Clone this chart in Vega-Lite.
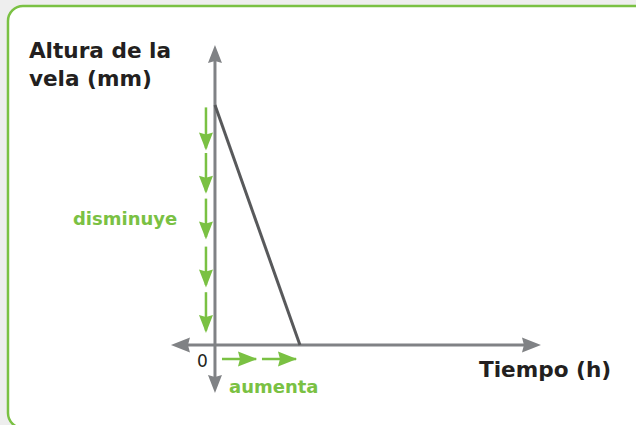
{
  "$schema": "https://vega.github.io/schema/vega-lite/v6.json",
  "width": 636,
  "height": 425,
  "autosize": {"type": "fit", "contains": "padding"},
  "padding": 0,
  "background": "#eeeeee",
  "config": {"view": {"stroke": null}},
  "encoding": {
    "x": {"field": "t", "type": "quantitative", "axis": null, "scale": {"domain": [-5.06, 9.91], "nice": false, "zero": false}},
    "y": {"field": "h", "type": "quantitative", "axis": null, "scale": {"domain": [-33.33, 143.75], "nice": false, "zero": false}}
  },
  "layer": [
    {
      "data": {"values": [{"t": -4.872, "h": 141.25, "t2": 10.6, "h2": -34.6}]},
      "mark": {"type": "rect", "fill": "#ffffff", "stroke": "#7ac143", "strokeWidth": 2.5, "cornerRadius": 15, "clip": true},
      "encoding": {"x2": {"field": "t2"}, "y2": {"field": "h2"}}
    },
    {
      "data": {"values": [
        {"t": 0, "h": -17.9, "t2": 0, "h2": 122.9},
        {"t": -0.918, "h": 0, "t2": 7.556, "h2": 0}
      ]},
      "mark": {"type": "rule", "stroke": "#808285", "strokeWidth": 3},
      "encoding": {"x2": {"field": "t2"}, "y2": {"field": "h2"}}
    },
    {
      "data": {"values": [
        {"t": 0, "h": 125, "dir": "up"},
        {"t": 0, "h": -20, "dir": "down"},
        {"t": -1.036, "h": 0, "dir": "left"},
        {"t": 7.673, "h": 0, "dir": "right"}
      ]},
      "mark": {"type": "point", "filled": true, "fill": "#808285", "size": 4, "opacity": 1},
      "encoding": {"shape": {"field": "dir", "type": "nominal", "legend": null, "scale": {
        "domain": ["up", "down", "left", "right"],
        "range": ["M0,0L7,18L0,16L-7,18Z", "M0,0L7,-18L0,-16L-7,-18Z", "M0,0L19,-7.5L17,0L19,7.5Z", "M0,0L-19,-7.5L-17,0L-19,7.5Z"]
      }}}
    },
    {
      "data": {"values": [{"t": 0, "h": 100}, {"t": 2, "h": 0}]},
      "mark": {"type": "line", "stroke": "#58595b", "strokeWidth": 3}
    },
    {
      "data": {"values": [
        {"t": -0.212, "h": 99, "t2": -0.212, "h2": 82},
        {"t": -0.212, "h": 80, "t2": -0.212, "h2": 64},
        {"t": -0.212, "h": 61, "t2": -0.212, "h2": 45},
        {"t": -0.212, "h": 41, "t2": -0.212, "h2": 25},
        {"t": -0.212, "h": 22, "t2": -0.212, "h2": 6},
        {"t": 0.165, "h": -5.83, "t2": 0.97, "h2": -5.83},
        {"t": 1.106, "h": -5.83, "t2": 1.91, "h2": -5.83}
      ]},
      "mark": {"type": "rule", "stroke": "#7ac143", "strokeWidth": 2.5},
      "encoding": {"x2": {"field": "t2"}, "y2": {"field": "h2"}}
    },
    {
      "data": {"values": [
        {"t": -0.212, "h": 81, "dir": "down"},
        {"t": -0.212, "h": 63, "dir": "down"},
        {"t": -0.212, "h": 44, "dir": "down"},
        {"t": -0.212, "h": 24, "dir": "down"},
        {"t": -0.212, "h": 5, "dir": "down"},
        {"t": 0.989, "h": -5.83, "dir": "right"},
        {"t": 1.93, "h": -5.83, "dir": "right"}
      ]},
      "mark": {"type": "point", "filled": true, "fill": "#7ac143", "size": 4, "opacity": 1},
      "encoding": {"shape": {"field": "dir", "type": "nominal", "legend": null, "scale": {
        "domain": ["down", "right"],
        "range": ["M0,1L-7,-8.3L-5.2,-9.7L0,-2L5.2,-9.7L7,-8.3Z", "M1,0L-8.3,-7L-9.7,-5.2L-2,0L-9.7,5.2L-8.3,7Z"]
      }}}
    },
    {
      "data": {"values": [
        {"t": -4.38, "h": 119.6, "label": "Altura de la"},
        {"t": -4.38, "h": 107.9, "label": "vela (mm)"},
        {"t": 6.214, "h": -13.33, "label": "Tiempo (h)"}
      ]},
      "mark": {"type": "text", "align": "left", "baseline": "alphabetic", "font": "DejaVu Sans", "fontWeight": "bold", "fontSize": 21.6, "fill": "#231f20"},
      "encoding": {"text": {"field": "label"}}
    },
    {
      "data": {"values": [{"t": -0.424, "h": -9.17, "label": "0"}]},
      "mark": {"type": "text", "align": "left", "baseline": "alphabetic", "font": "DejaVu Sans", "fontSize": 17, "fill": "#231f20"},
      "encoding": {"text": {"field": "label"}}
    },
    {
      "data": {"values": [
        {"t": -3.342, "h": 50, "label": "disminuye"},
        {"t": 0.33, "h": -20, "label": "aumenta"}
      ]},
      "mark": {"type": "text", "align": "left", "baseline": "alphabetic", "font": "DejaVu Sans", "fontWeight": "bold", "fontSize": 18, "fill": "#7ac143"},
      "encoding": {"text": {"field": "label"}}
    }
  ]
}
